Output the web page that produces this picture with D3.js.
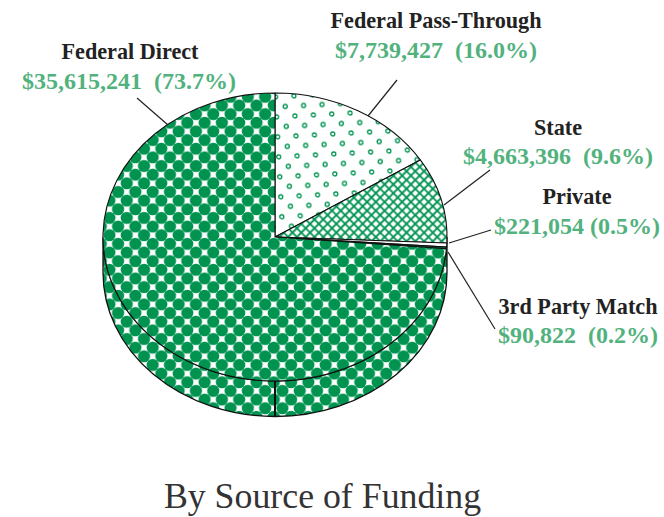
<!DOCTYPE html>
<html><head><meta charset="utf-8">
<script src="https://cdn.jsdelivr.net/npm/d3@7"></script>
<style>html,body{margin:0;padding:0;background:#fff}svg{display:block}</style>
</head><body><svg id="c" width="664" height="517"></svg>
<script>
const categories=["Federal Pass-Through","State","Private","3rd Party Match","Federal Direct"];
const amounts=["$7,739,427  (16.0%)","$4,663,396  (9.6%)","$221,054 (0.5%)","$90,822  (0.2%)","$35,615,241  (73.7%)"];
const values=[7739427,4663396,221054,90822,35615241];
const fills=["url(#rings)","url(#mesh)","#fff","#0a9650","url(#dots)"];
const chartTitle="By Source of Funding";
const G="#009350",LBL="#52b27e",cx=275,cy=237,rx=172,ry=144,depth=35.5;
const svg=d3.select("#c"),defs=svg.append("defs");

const T=17.3;
const dots=defs.append("pattern").attr("id","dots").attr("patternUnits","userSpaceOnUse")
 .attr("width",T).attr("height",T).attr("patternTransform","translate(161.35,321.7)");
dots.append("rect").attr("width",T).attr("height",T).attr("fill","#fff");
[[0,0],[T,0],[0,T],[T,T],[T/2,T/2]].forEach(p=>dots.append("circle").attr("cx",p[0]).attr("cy",p[1]).attr("r",6.1).attr("fill",G));

const rings=defs.append("pattern").attr("id","rings").attr("patternUnits","userSpaceOnUse")
 .attr("width",18.4).attr("height",20).attr("patternTransform",`translate(${cx+3},${cy-5}) rotate(-3)`);
rings.append("rect").attr("width",18.4).attr("height",20).attr("fill","#fff");
[[4.6,5],[13.8,15]].forEach(p=>rings.append("circle").attr("cx",p[0]).attr("cy",p[1]).attr("r",2).attr("fill","none").attr("stroke",G).attr("stroke-width",1.3));

const M=6.2;
const mesh=defs.append("pattern").attr("id","mesh").attr("patternUnits","userSpaceOnUse")
 .attr("width",M).attr("height",M).attr("patternTransform",`translate(${cx},${cy}) rotate(45)`);
mesh.append("rect").attr("width",M).attr("height",M).attr("fill","#fff");
mesh.append("path").attr("d",`M0 ${M/2}H${M}M${M/2} 0V${M}`).attr("stroke",G).attr("stroke-width",1.9);

const scaleY=d3.scaleLinear().domain([-rx,rx]).range([cy-ry,cy+ry]);
const arcs=d3.pie().sort(null).value(d=>d).startAngle(0).endAngle(2*Math.PI)(values);
function slicePath(a){
  const pt=t=>[cx+rx*Math.sin(t),scaleY(-rx*Math.cos(t))];
  const [x0,y0]=pt(a.startAngle),[x1,y1]=pt(a.endAngle);
  return `M${cx},${cy}L${x0},${y0}A${rx},${ry} 0 ${a.endAngle-a.startAngle>Math.PI?1:0} 1 ${x1},${y1}Z`;
}
svg.append("path")
 .attr("d",`M${cx+rx},${cy}L${cx+rx},${cy+depth}A${rx},${ry} 0 0 1 ${cx-rx},${cy+depth}L${cx-rx},${cy}A${rx},${ry} 0 0 0 ${cx+rx},${cy}Z`)
 .attr("fill","url(#dots)").attr("stroke","#111").attr("stroke-width",1.3);
svg.append("line").attr("x1",cx).attr("x2",cx).attr("y1",cy+ry).attr("y2",cy+ry+depth).attr("stroke","#111").attr("stroke-width",2);
svg.append("g").selectAll("path").data(arcs).join("path")
 .attr("d",slicePath).attr("fill",(d,i)=>fills[i]).attr("stroke","#111").attr("stroke-width",1.1).attr("stroke-linejoin","round");

const leaders=[[397,80,368,116],[490,170,444,205],[491,230,449,243],[495,329,448,252],[137,98,168,125]];
svg.append("g").selectAll("line").data(leaders).join("line")
 .attr("x1",d=>d[0]).attr("y1",d=>d[1]).attr("x2",d=>d[2]).attr("y2",d=>d[3]).attr("stroke","#222").attr("stroke-width",1.2);

const font="'Liberation Serif',serif";
const labelPos=[[436,28,436,58],[558,135,558,164],[577,204,577,234],[578,314,578,343],[130,59,129,89]];
labelPos.forEach((p,i)=>{
 svg.append("text").attr("x",p[0]).attr("y",p[1]).attr("text-anchor","middle").attr("font-family",font).attr("font-weight","bold").attr("font-size",22.2).attr("fill","#222").text(categories[i]);
 svg.append("text").attr("x",p[2]).attr("y",p[3]).attr("text-anchor","middle").attr("font-family",font).attr("font-weight","bold").attr("font-size",24).attr("fill",LBL).attr("xml:space","preserve").style("white-space","pre").text(amounts[i]);
});
svg.append("text").attr("x",322.5).attr("y",508).attr("text-anchor","middle").attr("font-family",font).attr("font-size",35.8).attr("fill","#333").text(chartTitle);
</script></body></html>
